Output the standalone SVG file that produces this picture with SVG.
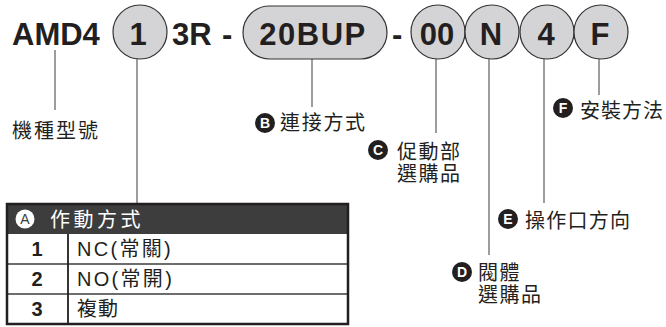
<svg xmlns="http://www.w3.org/2000/svg" width="666" height="327" viewBox="0 0 666 327">
<style>
.code{font-family:"Liberation Sans",Arial,sans-serif;font-weight:bold;font-size:31px;fill:#231f20}
.bub{fill:#d4d4d6;stroke:#333;stroke-width:1.2}
.cj{font-family:"Liberation Sans","Noto Sans CJK TC","Noto Sans CJK SC",sans-serif;font-size:20px;fill:#231f20}
.badge{fill:#231f20}
.bl{font-family:"Liberation Sans",Arial,sans-serif;font-weight:bold;font-size:14px;fill:#fff;text-anchor:middle}
.conn line{stroke:#9d9d9f;stroke-width:2}
.cell{font-family:"Liberation Sans","Noto Sans CJK TC",sans-serif;font-size:20px;fill:#231f20}
.num{font-family:"Liberation Sans",Arial,sans-serif;font-weight:bold;font-size:20px;fill:#231f20;text-anchor:middle}
</style>
<rect width="666" height="327" fill="#fff"/>
<g id="connectors" class="conn">
<line x1="55" y1="50" x2="55" y2="110"/>
<line x1="137" y1="59" x2="137" y2="204"/>
<line x1="312" y1="59" x2="312" y2="107"/>
<line x1="436" y1="59" x2="436" y2="133"/>
<line x1="489" y1="59" x2="489" y2="255"/>
<line x1="544" y1="59" x2="544" y2="203"/>
<line x1="599" y1="59" x2="599" y2="95"/>
</g>
<g id="code">
<text class="code" x="12" y="45">AMD4</text>
<text class="code" x="172" y="45">3R</text>
<text class="code" x="222" y="45">-</text>
<text class="code" x="392" y="45">-</text>
</g>
<g id="node-1">
<circle class="bub" cx="140" cy="32" r="27"/>
<text class="code" x="138" y="45" text-anchor="middle">1</text>
</g>
<g id="node-20BUP">
<rect class="bub" x="243" y="6" width="144" height="53" rx="26.5"/>
<text class="code" x="313" y="45" text-anchor="middle" letter-spacing="1.5">20BUP</text>
</g>
<g id="node-00">
<circle class="bub" cx="438" cy="32" r="27"/>
<text class="code" x="437" y="45" text-anchor="middle">00</text>
</g>
<g id="node-N">
<circle class="bub" cx="492" cy="32" r="27"/>
<text class="code" x="491" y="45" text-anchor="middle">N</text>
</g>
<g id="node-4">
<circle class="bub" cx="547" cy="32" r="27"/>
<text class="code" x="546" y="45" text-anchor="middle">4</text>
</g>
<g id="node-F">
<circle class="bub" cx="601" cy="32" r="27"/>
<text class="code" x="600" y="45" text-anchor="middle">F</text>
</g>
<g id="label-model">
<text class="cj" x="12" y="137.5" letter-spacing="2">機種型號</text>
</g>
<g id="label-B">
<circle class="badge" cx="265" cy="123" r="10"/>
<text class="bl" x="265" y="128">B</text>
<text class="cj" x="280" y="129.5" letter-spacing="1.7">連接方式</text>
</g>
<g id="label-C">
<circle class="badge" cx="378" cy="150" r="10"/>
<text class="bl" x="378" y="155">C</text>
<text class="cj" x="397" y="158.5" letter-spacing="1.5">促動部</text>
<text class="cj" x="397" y="181" letter-spacing="1.5">選購品</text>
</g>
<g id="label-F">
<circle class="badge" cx="563" cy="108" r="10"/>
<text class="bl" x="563" y="113">F</text>
<text class="cj" x="580" y="117.5" letter-spacing="1">安裝方法</text>
</g>
<g id="label-E">
<circle class="badge" cx="508" cy="219" r="10"/>
<text class="bl" x="508" y="224">E</text>
<text class="cj" x="525" y="227.5" letter-spacing="1.25">操作口方向</text>
</g>
<g id="label-D">
<circle class="badge" cx="462" cy="272" r="10"/>
<text class="bl" x="462" y="277">D</text>
<text class="cj" x="478" y="279.5" letter-spacing="1.5">閥體</text>
<text class="cj" x="478" y="302" letter-spacing="1.5">選購品</text>
</g>
<g id="table-A">
<rect x="7" y="204" width="341" height="30" fill="#3d3d3d"/>
<line x1="7" y1="264" x2="348" y2="264" stroke="#6d6d6d" stroke-width="2"/>
<line x1="7" y1="294" x2="348" y2="294" stroke="#6d6d6d" stroke-width="2"/>
<line x1="68" y1="234" x2="68" y2="324" stroke="#231f20" stroke-width="1.8"/>
<rect x="7" y="204" width="341" height="120" fill="none" stroke="#231f20" stroke-width="2.5"/>
<circle cx="25" cy="219" r="9.5" fill="#fff"/>
<text x="25" y="224" font-family="Liberation Sans,Arial,sans-serif" font-size="14" fill="#3d3d3d" text-anchor="middle">A</text>
<text class="cj" x="50" y="227" style="fill:#fff" letter-spacing="3.5">作動方式</text>
<text class="num" x="37" y="256">1</text>
<text class="cell" x="77" y="256" letter-spacing="2.3">NC(常關)</text>
<text class="num" x="37" y="286">2</text>
<text class="cell" x="77" y="286" letter-spacing="2.3">NO(常開)</text>
<text class="num" x="37" y="316">3</text>
<text class="cell" x="77" y="316" letter-spacing="1">複動</text>
</g>
</svg>
